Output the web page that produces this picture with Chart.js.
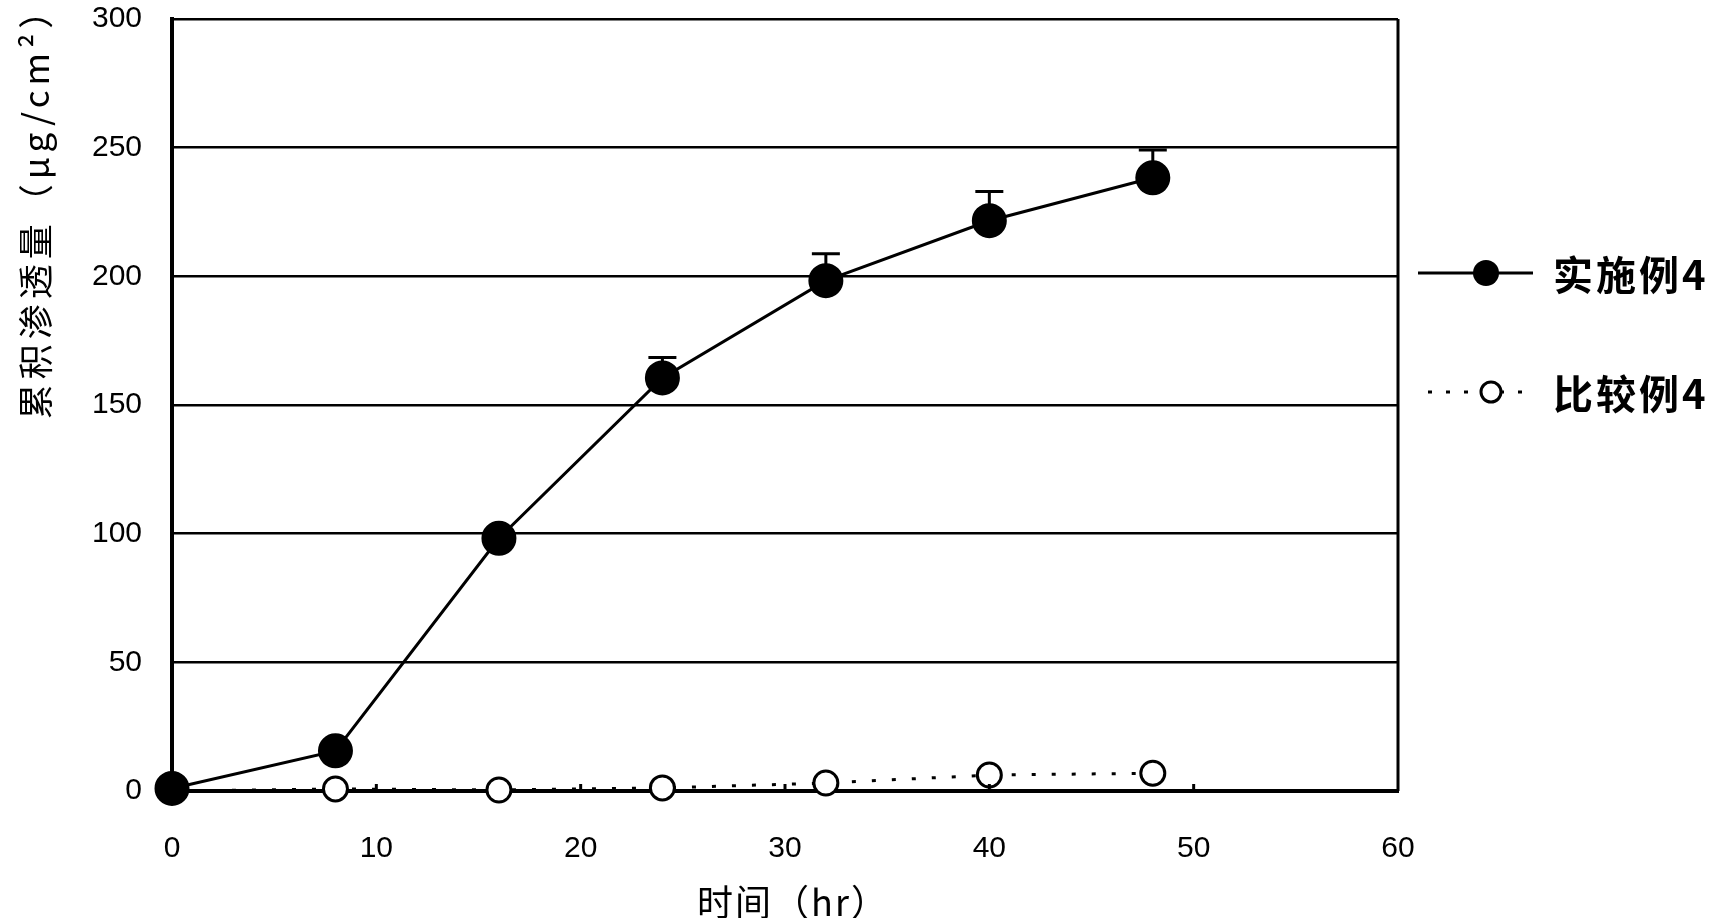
<!DOCTYPE html>
<html lang="zh">
<head>
    <meta charset="UTF-8">
    <script src="https://cdn.jsdelivr.net/npm/chart.js"></script>
    <style>
        body { margin: 0; padding: 0; background: #fff; }
        #wrap { width: 1723px; height: 918px; }
    </style>
</head>
<body>
    <div id="wrap">
        <canvas id="permeation" width="1723" height="918"></canvas>
    </div>
    <script>
        // data
        const hours = [0, 8, 16, 24, 32, 40, 48];
        const example4 = [1, 15.6, 98.2, 160.5, 198.3, 221.6, 238.3];
        const example4Err = [0, 0, 0, 8, 10.5, 11.4, 10.8];
        const compare4 = [0, 0.8, 0.4, 1.2, 3.1, 6.2, 6.9];
        const xTickValues = [0, 10, 20, 30, 40, 50, 60];
        const yTickValues = [0, 50, 100, 150, 200, 250, 300];
        const seriesNames = ['实施例4', '比较例4'];
        const xTitle = '时间（hr）';
        const yTitle = '累积渗透量（μg/cm²）';

        const cjk = '"Noto Sans CJK SC", "Noto Sans", sans-serif';
        const digits = '"Liberation Sans", Arial, sans-serif';

        const toPoints = (xs, ys) => xs.map((x, i) => ({ x: x, y: ys[i] }));

        // upper error bars, drawn under the markers
        const errorBars = {
            id: 'errorBars',
            beforeDatasetsDraw(chart) {
                const ctx = chart.ctx;
                const xs = chart.scales.x, ys = chart.scales.y;
                ctx.save();
                ctx.strokeStyle = '#000';
                ctx.lineWidth = 3;
                hours.forEach((h, i) => {
                    if (!example4Err[i]) return;
                    const px = xs.getPixelForValue(h);
                    const py = ys.getPixelForValue(example4[i]);
                    const top = ys.getPixelForValue(example4[i] + example4Err[i]);
                    ctx.beginPath();
                    ctx.moveTo(px, py);
                    ctx.lineTo(px, top);
                    ctx.moveTo(px - 14, top);
                    ctx.lineTo(px + 14, top);
                    ctx.stroke();
                });
                ctx.restore();
            }
        };

        // frame, inner x ticks, titles and legend
        const decorations = {
            id: 'decorations',
            afterDraw(chart) {
                const ctx = chart.ctx;
                const a = chart.chartArea;
                const xs = chart.scales.x;
                ctx.save();
                ctx.strokeStyle = '#000';
                ctx.lineWidth = 3;
                ctx.beginPath();
                ctx.moveTo(a.right, a.top);
                ctx.lineTo(a.right, a.bottom);
                ctx.stroke();
                xTickValues.slice(1, -1).forEach(v => {
                    const px = xs.getPixelForValue(v);
                    ctx.beginPath();
                    ctx.moveTo(px, a.bottom);
                    ctx.lineTo(px, a.bottom - 7);
                    ctx.stroke();
                });

                ctx.fillStyle = '#000';
                ctx.font = '36px ' + cjk;
                ctx.textAlign = 'center';
                ctx.textBaseline = 'middle';
                ctx.letterSpacing = '2px';
                ctx.fillText(xTitle, 793, 902);

                ctx.save();
                ctx.translate(36, 204);
                ctx.rotate(-Math.PI / 2);
                ctx.font = '35px ' + cjk;
                ctx.letterSpacing = '5px';
                ctx.fillText(yTitle, 0, 0);
                ctx.restore();

                // legend
                ctx.textAlign = 'left';
                ctx.font = 'bold 40px ' + cjk;
                ctx.letterSpacing = '3px';
                ctx.lineWidth = 3;
                ctx.beginPath();
                ctx.moveTo(1418, 273);
                ctx.lineTo(1533, 273);
                ctx.stroke();
                ctx.beginPath();
                ctx.arc(1486, 273, 13, 0, Math.PI * 2);
                ctx.fill();
                ctx.fillText(seriesNames[0], 1553, 275);

                ctx.setLineDash([4, 14]);
                ctx.beginPath();
                ctx.moveTo(1428, 392);
                ctx.lineTo(1525, 392);
                ctx.stroke();
                ctx.setLineDash([]);
                ctx.beginPath();
                ctx.arc(1491, 392, 10, 0, Math.PI * 2);
                ctx.fillStyle = '#fff';
                ctx.fill();
                ctx.stroke();
                ctx.fillStyle = '#000';
                ctx.fillText(seriesNames[1], 1553, 394);
                ctx.restore();
            }
        };

        const ctx1 = document.getElementById('permeation').getContext('2d');
        const permeationChart = new Chart(ctx1, {
            type: 'line',
            data: {
                datasets: [{
                    label: seriesNames[0],
                    data: toPoints(hours, example4),
                    borderColor: '#000',
                    borderWidth: 3,
                    pointRadius: 16,
                    pointBackgroundColor: '#000',
                    pointBorderColor: '#000',
                    tension: 0,
                    clip: false
                }, {
                    label: seriesNames[1],
                    data: toPoints(hours, compare4),
                    borderColor: '#000',
                    borderWidth: 3,
                    borderDash: [4, 16],
                    pointRadius: 12,
                    pointBorderWidth: 3,
                    pointBackgroundColor: '#fff',
                    pointBorderColor: '#000',
                    tension: 0,
                    clip: false
                }]
            },
            options: {
                responsive: false,
                animation: false,
                layout: { padding: { top: 13, right: 325, left: 0, bottom: 0 } },
                plugins: {
                    legend: { display: false },
                    tooltip: { enabled: false }
                },
                scales: {
                    x: {
                        type: 'linear',
                        min: 0,
                        max: 60,
                        afterBuildTicks: s => { s.ticks = xTickValues.map(v => ({ value: v })); },
                        afterFit: s => { s.height = 127; },
                        grid: { display: false },
                        border: { display: true, color: '#000', width: 4 },
                        ticks: { color: '#000', padding: 32, font: { family: digits, size: 30 } }
                    },
                    y: {
                        min: 0,
                        max: 300,
                        afterBuildTicks: s => { s.ticks = yTickValues.map(v => ({ value: v })); },
                        afterFit: s => { s.width = 172; s.paddingTop = 0; s.paddingBottom = 0; },
                        grid: { color: '#000', lineWidth: 2.5, drawTicks: false },
                        border: { display: true, color: '#000', width: 4 },
                        ticks: { color: '#000', padding: 30, font: { family: digits, size: 30 } }
                    }
                }
            },
            plugins: [errorBars, decorations]
        });
    </script>
</body>
</html>
